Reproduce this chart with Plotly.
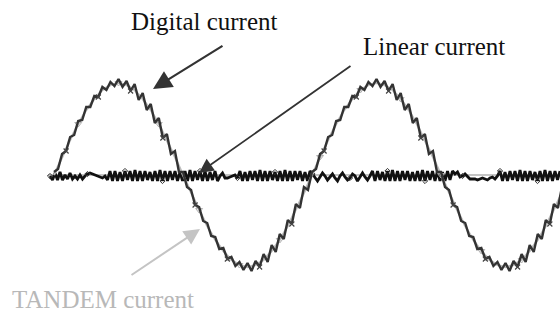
import plotly.graph_objects as go

# Values (y: current in px units, 0 = zero line; x: time in px units)
tandem_y = [0, 18, 35, 51, 65, 76, 85, 90, 92, 90, 85, 76, 65, 51, 35, 18,
            0, -18, -35, -51, -65, -76, -85, -90, -92, -90, -85, -76, -65, -51, -35, -18,
            0, 18, 35, 51, 65, 76, 85, 90, 92, 90, 85, 76, 65, 51, 35, 18,
            0, -18, -35, -51, -65, -76, -85, -90, -92, -90, -85, -76, -65, -51, -35, -18]
tandem_x0, tandem_dx = 54, 8.0625

digital_y = [3, 6, 21, 24, 38, 40, 54, 55, 68, 68, 79, 78, 88, 85, 93, 89,
             96, 88, 94, 84, 91, 75, 82, 65, 71, 52, 57, 37, 41, 21, 24, 3,
             3, -12, -15, -30, -32, -46, -48, -61, -62, -74, -73, -84, -82, -91, -87, -95,
             -88, -96, -86, -92, -79, -87, -70, -77, -59, -64, -45, -49, -29, -33, -12, -15,
             3, 6, 21, 24, 38, 40, 54, 55, 68, 68, 79, 78, 88, 85, 93, 89,
             96, 88, 94, 84, 91, 75, 82, 65, 71, 52, 57, 37, 41, 21, 24, 3,
             3, -12, -15, -30, -32, -46, -48, -61, -62, -74, -73, -84, -82, -91, -87, -95,
             -88, -96, -86, -92, -79, -87, -70, -77, -59, -64, -45, -49, -29, -33, -12, -15]
digital_x0, digital_dx = 54, 4.03125

linear_y = ([-1, -5, 2, -5, 3, -5, 0, -4, 2, -4, -1, -4] +
            [0, -4, -1, 1, 2, 1, 0, -1, -2, -3, -1, -5] +
            [4, -6, 4, -6, 3, -6, 4, -5, 4, -6, 5, -6, 4, -6, 4, -5, 3, -6, 4, -6, 5, -6,
             4, -6, 4, -5, 4, -6, 3, -6, 4, -6, 5, -6, 4, -5, 4, -6, 4, -6, 3, -5, 4, -6] +
            [-1, 2, -3, -3, -2, -1, 0, -3] +
            [4, -6, 3, -6, 4, -5, 4, -6, 5, -6, 4, -6, 4, -5, 3, -6, 4, -6, 5, -6, 4, -6,
             4, -5, 4, -6, 3, -6, 4] +
            [1, -2, -6, -2, 2, -1, -5, -2, 1, -3, -6, -1, 2, -2, -5, -3, 1, -1, -6, -2,
             2, -2, -5, -1] +
            [4, -6, 4, -5, 3, -6, 4, -6, 5, -6, 4, -6, 4, -5, 4, -6, 3, -6, 4, -6, 5, -6,
             4, -5, 4, -6, 4, -6, 3, -6, 4, -5, 4] +
            [1, 3, -2, -1, 1, -2, -4, -4, -4, -5, -4, -3, -4, -5, -3, -2, -4, -1] +
            [4, -6, 3, -6, 4, -5, 4, -6, 5, -6, 4, -6, 4, -5, 3, -6, 4, -6, 5, -6, 4, -6,
             4, -5, 4])
linear_x0, linear_dx = 50, 2.5

zero_x = [48, 560]
zero_y = [0, 0]

labels = ["Digital current", "Linear current", "TANDEM current"]

fig = go.Figure()
fig.add_trace(go.Scatter(x=zero_x, y=zero_y, mode="lines",
                         line=dict(color="#b0b0b0", width=1.6), hoverinfo="skip"))
fig.add_trace(go.Scatter(x0=linear_x0, dx=linear_dx, y=linear_y, mode="lines+markers",
                         line=dict(color="#111111", width=2.8),
                         marker=dict(symbol="diamond-open", size=4, color="#333333", maxdisplayed=14)))
fig.add_trace(go.Scatter(x0=tandem_x0, dx=tandem_dx, y=tandem_y, mode="lines+markers",
                         line=dict(color="#bdbdbd", width=2.2),
                         marker=dict(symbol="triangle-down-open", size=6, color="#b0b0b0", maxdisplayed=14)))
fig.add_trace(go.Scatter(x0=digital_x0, dx=digital_dx, y=digital_y, mode="lines+markers",
                         line=dict(color="#333333", width=2.4),
                         marker=dict(symbol="x-thin", size=5, color="#444444",
                                     line=dict(width=1.2, color="#444444"), maxdisplayed=16)))

family = "Liberation Serif, Times New Roman, serif"
fig.add_annotation(x=204, y=154, text=labels[0], showarrow=False,
                   font=dict(family=family, size=25, color="#111111"),
                   xanchor="center", yanchor="middle")
fig.add_annotation(x=434, y=129, text=labels[1], showarrow=False,
                   font=dict(family=family, size=25, color="#111111"),
                   xanchor="center", yanchor="middle")
fig.add_annotation(x=103, y=-124, text=labels[2], showarrow=False,
                   font=dict(family=family, size=25, color="#b8b8b8"),
                   xanchor="center", yanchor="middle")

# arrows
fig.add_annotation(x=153, y=86, ax=224, ay=130, axref="x", ayref="y", xref="x", yref="y",
                   text="", showarrow=True, arrowhead=2, arrowsize=1.7, arrowwidth=2.2,
                   arrowcolor="#333333")
fig.add_annotation(x=199, y=2, ax=352, ay=110, axref="x", ayref="y", xref="x", yref="y",
                   text="", showarrow=True, arrowhead=2, arrowsize=1.6, arrowwidth=1.8,
                   arrowcolor="#333333")
fig.add_annotation(x=200, y=-54, ax=130, ay=-101, axref="x", ayref="y", xref="x", yref="y",
                   text="", showarrow=True, arrowhead=2, arrowsize=1.6, arrowwidth=2,
                   arrowcolor="#c4c4c4")

fig.update_layout(width=560, height=313, margin=dict(l=0, r=0, t=0, b=0),
                  paper_bgcolor="white", plot_bgcolor="white", showlegend=False)
fig.update_xaxes(range=[0, 560], visible=False)
fig.update_yaxes(range=[-138, 175], visible=False)
fig.write_html("out.html", config={"displayModeBar": False, "staticPlot": True},
               post_script="document.body.style.margin='0';document.body.style.overflow='hidden';")
